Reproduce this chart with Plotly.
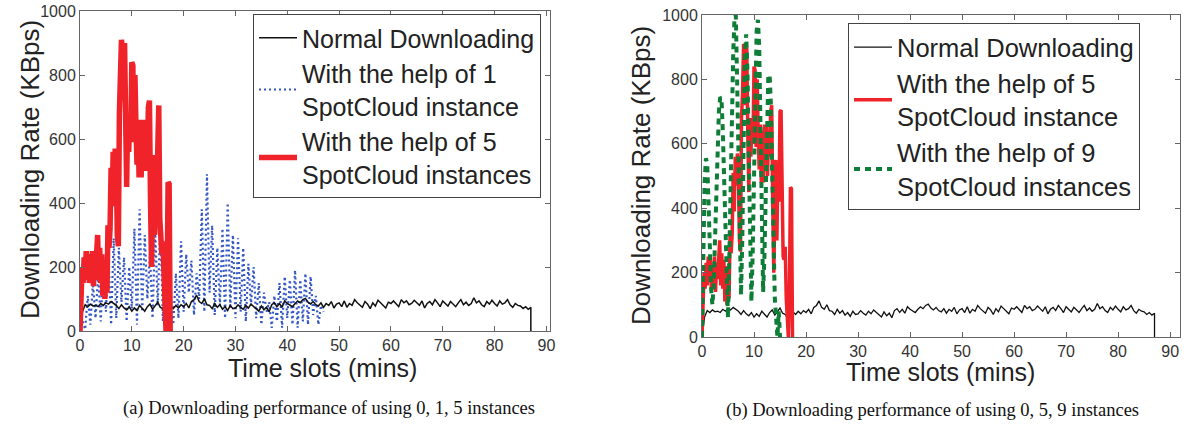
import plotly.graph_objects as go

# ---------------- data ----------------
# Normal downloading, sampled every 0.5 min from 0 to 87 min (then the session ends)
NORMAL_STEP = 0.5
normal_rate = [
    0, 62, 82, 76, 84, 78, 80, 76, 86, 80,
    88, 84, 92, 86, 80, 70, 82, 72, 66, 76,
    62, 72, 64, 80, 70, 62, 76, 84, 68, 80,
    90, 74, 70, 58, 68, 78, 70, 80, 72, 82,
    76, 86, 72, 92, 98, 112, 92, 86, 100, 82,
    80, 70, 86, 74, 82, 68, 76, 64, 80, 70,
    72, 82, 74, 68, 80, 72, 84, 76, 70, 62,
    78, 66, 74, 60, 82, 88, 76, 86, 74, 94,
    86, 80, 76, 86, 94, 88, 98, 102, 90, 84,
    92, 82, 78, 88, 74, 86, 80, 92, 72, 84,
    88, 76, 94, 74, 86, 80, 98, 88, 82, 74,
    92, 84, 70, 88, 78, 96, 88, 80, 72, 90,
    86, 94, 84, 76, 98, 88, 94, 82, 86, 96,
    88, 80, 94, 72, 86, 92, 82, 98, 88, 76,
    94, 86, 78, 92, 84, 76, 88, 98, 82, 90,
    80, 86, 104, 88, 94, 82, 76, 92, 84, 96,
    86, 78, 94, 84, 88, 98, 82, 74, 86, 80,
    78, 70, 76, 68, 74,
]
normal_end_time = 87.0
normal_end_rate = 0

# With the help of 1 SpotCloud instance, every 0.5 min from 0 to 47 min
ONE_STEP = 0.5
one_rate = [
    0, 30, 5, 110, 20, 150, 40, 180, 30, 200,
    60, 240, 20, 290, 40, 260, 90, 230, 30, 200,
    70, 320, 20, 380, 60, 300, 100, 240, 40, 320,
    80, 340, 30, 260, 10, 120, 20, 180, 40, 280,
    60, 240, 120, 220, 50, 180, 100, 380, 60, 490,
    120, 330, 50, 260, 80, 320, 40, 400, 70, 300,
    40, 290, 60, 260, 30, 210, 80, 200, 40, 150,
    20, 120, 60, 90, 10, 110, 30, 150, 10, 170,
    40, 160, 20, 190, 10, 160, 30, 180, 20, 170,
    50, 110, 20, 80, 60,
]

# With the help of 5 SpotCloud instances, every 0.2 min from 0 to 17.4 min
FIVE_STEP = 0.2
five_rate = [
    0, 100, 200, 150, 230, 160, 250, 170, 240, 150,
    220, 170, 250, 140, 230, 180, 240, 300, 160, 260,
    150, 240, 110, 220, 100, 190, 120, 330, 260, 320,
    510, 390, 560, 470, 570, 520, 300, 265, 680, 760,
    910, 870, 720, 900, 640, 450, 680, 560, 670, 600,
    840, 830, 590, 800, 640, 520, 660, 480, 640, 480,
    660, 560, 660, 500, 640, 560, 700, 720, 420, 200,
    380, 550, 300, 540, 420, 700, 705, 350, 250, 240,
    280, 120, 40, 0, 120, 465, 460, 0,
]

# With the help of 9 SpotCloud instances, every 0.25 min from 0 to 15 min
NINE_STEP = 0.25
nine_rate = [
    0, 250, 480, 555, 540, 420, 260, 150, 100, 160,
    300, 450, 600, 700, 745, 740, 640, 480, 300, 140,
    60, 250, 480, 700, 880, 990, 1000, 800, 550, 300,
    130, 300, 620, 880, 940, 820, 560, 300, 110, 260,
    520, 780, 950, 985, 900, 650, 380, 140, 250, 500,
    700, 810, 815, 720, 500, 300, 120, 60, 0, 80,
    0,
]

x_ticks = [0, 10, 20, 30, 40, 50, 60, 70, 80, 90]
y_ticks = [0, 200, 400, 600, 800, 1000]

names_left = ["Normal Downloading",
              "With the help of 1<br>SpotCloud instance",
              "With the help of 5<br>SpotCloud instances"]
names_right = ["Normal Downloading",
               "With the help of 5<br>SpotCloud instance",
               "With the help of 9<br>SpotCloud instances"]
y_title = "Downloading Rate (KBps)"
x_title = "Time slots (mins)"
captions = ["(a) Downloading performance of using 0, 1, 5 instances",
            "(b) Downloading performance of using 0, 5, 9 instances"]

# ---------------- derived time axes ----------------
normal_time = [i * NORMAL_STEP for i in range(len(normal_rate))] + [normal_end_time]
normal_vals = normal_rate + [normal_end_rate]
one_time = [i * ONE_STEP for i in range(len(one_rate))]
five_time = [i * FIVE_STEP for i in range(len(five_rate))]
nine_time = [i * NINE_STEP for i in range(len(nine_rate))]

BLACK = "#111111"
BLUE = "#3557c4"
RED = "#f0222a"
GREEN = "#0d7d37"
FONT = "Liberation Sans"

W, H = 1186, 427

def px_x(p):
    return p / W

def px_y(p):
    return 1 - p / H

fig = go.Figure()

# ---- left panel ----
fig.add_trace(go.Scatter(x=one_time, y=one_rate, mode="lines", name=names_left[1],
                         line=dict(color=BLUE, width=2.2, dash="2px,3px"),
                         xaxis="x", yaxis="y", legend="legend", legendrank=2))
fig.add_trace(go.Scatter(x=normal_time, y=normal_vals, mode="lines", name=names_left[0],
                         line=dict(color=BLACK, width=1.5),
                         xaxis="x", yaxis="y", legend="legend", legendrank=1))
fig.add_trace(go.Scatter(x=five_time, y=five_rate, mode="lines", name=names_left[2],
                         line=dict(color=RED, width=5.5),
                         xaxis="x", yaxis="y", legend="legend", legendrank=3))

# ---- right panel ----
fig.add_trace(go.Scatter(x=normal_time, y=normal_vals, mode="lines", name=names_right[0],
                         line=dict(color=BLACK, width=1.3),
                         xaxis="x2", yaxis="y2", legend="legend2", legendrank=1))
fig.add_trace(go.Scatter(x=five_time, y=five_rate, mode="lines", name=names_right[1],
                         line=dict(color=RED, width=3.5),
                         xaxis="x2", yaxis="y2", legend="legend2", legendrank=2))
fig.add_trace(go.Scatter(x=nine_time, y=nine_rate, mode="lines", name=names_right[2],
                         line=dict(color=GREEN, width=4, dash="6px,5px"),
                         xaxis="x2", yaxis="y2", legend="legend2", legendrank=3))

axis_common = dict(showline=True, linecolor="#666666", linewidth=1, mirror="ticks",
                   ticks="inside", ticklen=5, tickcolor="#666666", tickwidth=1,
                   showgrid=False, zeroline=False,
                   tickfont=dict(family=FONT, size=16, color="#333333"))

legend_common = dict(xanchor="left", yanchor="top", bgcolor="white",
                     bordercolor="#444444", borderwidth=1, tracegroupgap=0,
                     itemwidth=38)

fig.update_layout(
    width=W, height=H,
    margin=dict(l=0, r=0, t=0, b=0, autoexpand=False),
    paper_bgcolor="white", plot_bgcolor="white",
    xaxis=dict(domain=[px_x(80), px_x(550)], range=[0, 90.7], tickvals=x_ticks,
               anchor="y", **axis_common),
    yaxis=dict(domain=[px_y(331), px_y(11)], range=[0, 1000], tickvals=y_ticks,
               anchor="x", **axis_common),
    xaxis2=dict(domain=[px_x(702), px_x(1180)], range=[0, 91.9], tickvals=x_ticks,
                anchor="y2", **axis_common),
    yaxis2=dict(domain=[px_y(337), px_y(15)], range=[0, 1000], tickvals=y_ticks,
                anchor="x2", **axis_common),
    legend=dict(x=px_x(253), y=px_y(14),
                font=dict(family=FONT, size=25, color="#222222"), **legend_common),
    legend2=dict(x=px_x(848), y=px_y(23),
                 font=dict(family=FONT, size=25.5, color="#222222"), **legend_common),
    showlegend=True,
)

ann = []
title_font = dict(family=FONT, size=26, color="#222222")
common_ann = dict(xref="paper", yref="paper", showarrow=False,
                  xanchor="center", yanchor="middle")
ann.append(dict(text=y_title, x=px_x(30), y=px_y(170), textangle=-90,
                font=title_font, **common_ann))
ann.append(dict(text=y_title, x=px_x(641), y=px_y(176), textangle=-90,
                font=title_font, **common_ann))
ann.append(dict(text=x_title, x=px_x(322), y=px_y(368),
                font=dict(family=FONT, size=25, color="#222222"), **common_ann))
ann.append(dict(text=x_title, x=px_x(940), y=px_y(372),
                font=dict(family=FONT, size=25, color="#222222"), **common_ann))
cap_font = dict(family="Liberation Serif", size=18.5, color="#111111")
ann.append(dict(text=captions[0], x=px_x(329), y=px_y(408), font=cap_font, **common_ann))
ann.append(dict(text=captions[1], x=px_x(932), y=px_y(410), font=cap_font, **common_ann))
fig.update_layout(annotations=ann)

fig.write_html("out.html", config={"displayModeBar": False},
               post_script="document.body.style.margin='0';document.body.style.overflow='hidden';")
